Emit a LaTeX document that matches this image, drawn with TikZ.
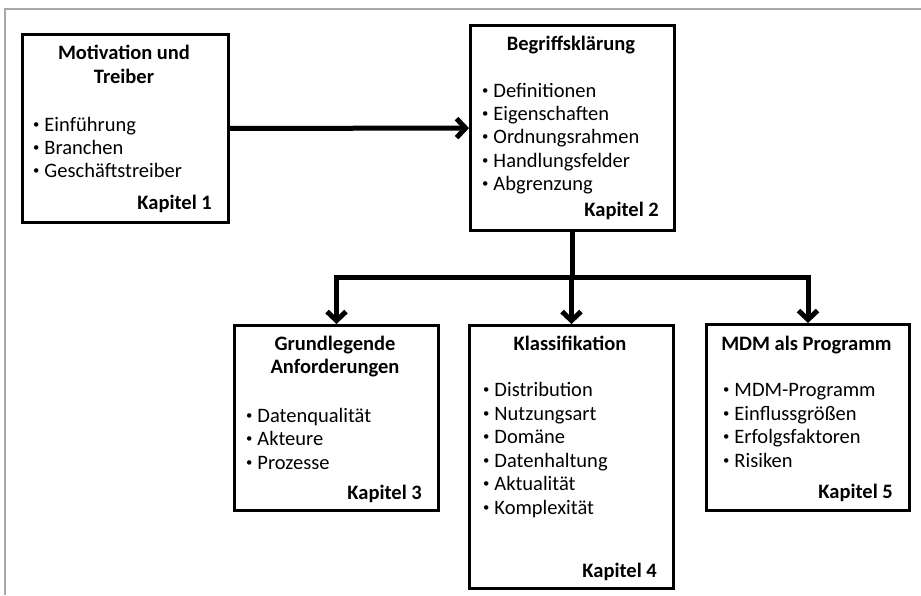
\documentclass[tikz,border=0pt]{standalone}
\usepackage{fontspec}
\setmainfont{Carlito}
\usetikzlibrary{arrows.meta}
\definecolor{framegray}{RGB}{168,168,172}
\newcommand\blt{\makebox[0.55em][l]{\raisebox{0.13em}{\scalebox{0.62}{•}}}}
\begin{document}
\begin{tikzpicture}[x=1pt,y=-1pt,
  box/.style={draw,line width=3pt,inner sep=0pt,anchor=north west},
  txt/.style={inner sep=0pt,font=\fontsize{20.5}{23}\selectfont},
  ttl/.style={inner sep=0pt,font=\fontsize{20.5}{23}\selectfont\bfseries,anchor=base},
  item/.style={txt,anchor=base west},
  kap/.style={inner sep=0pt,font=\fontsize{20.5}{23}\selectfont\bfseries,anchor=base east},
  link/.style={line width=5pt,line join=miter},
  arr/.style={link,-{Straight Barb[length=9pt,width=19pt]}}]
\useasboundingbox (0,0) rectangle (921,595);
\draw[framegray,line width=1.5pt] (921,9) -- (5,9) -- (5,595);

% boxes
\node[box,minimum width=206pt,minimum height=188pt] (b1) at (21,33) {};
\node[box,minimum width=204pt,minimum height=205pt] (b2) at (469,24) {};
\node[box,minimum width=204pt,minimum height=185pt] (b3) at (233,324) {};
\node[box,minimum width=204pt,minimum height=263pt] (b4) at (468,324) {};
\node[box,minimum width=203pt,minimum height=186pt] (b5) at (705,323) {};

% box 1
\node[ttl] (t1a) at (124,59) {Motivation und};
\node[ttl] (t1b) at (124,83) {Treiber};
\node[item] (i1a) at (33,131) {\blt Einführung};
\node[item] (i1b) at (33,154) {\blt Branchen};
\node[item] (i1c) at (33,177) {\blt Geschäftstreiber};
\node[kap] (k1) at (212,209) {Kapitel 1};

% box 2
\node[ttl] (t2a) at (571,50) {Begriffsklärung};
\node[item] (i2a) at (482,97) {\blt Definitionen};
\node[item] (i2b) at (482,120) {\blt Eigenschaften};
\node[item] (i2c) at (482,143.5) {\blt Ordnungsrahmen};
\node[item] (i2d) at (482,167) {\blt Handlungsfelder};
\node[item] (i2e) at (482,190) {\blt Abgrenzung};
\node[kap] (k2) at (659,216) {Kapitel 2};

% box 3
\node[ttl] (t3a) at (335,350) {Grundlegende};
\node[ttl] (t3b) at (335,373) {Anforderungen};
\node[item] (i3a) at (246,422) {\blt Datenqualität};
\node[item] (i3b) at (246,445) {\blt Akteure};
\node[item] (i3c) at (246,469) {\blt Prozesse};
\node[kap] (k3) at (422,499) {Kapitel 3};

% box 4
\node[ttl] (t4a) at (570,350) {Klassifikation};
\node[item] (i4a) at (483,396.5) {\blt Distribution};
\node[item] (i4b) at (483,420) {\blt Nutzungsart};
\node[item] (i4c) at (483,443.5) {\blt Domäne};
\node[item] (i4d) at (483,467) {\blt Datenhaltung};
\node[item] (i4e) at (483,490.5) {\blt Aktualität};
\node[item] (i4f) at (483,514) {\blt Komplexität};
\node[kap] (k4) at (657,577) {Kapitel 4};

% box 5
\node[ttl] (t5a) at (806.5,350) {MDM als Programm};
\node[item] (i5a) at (723,396.5) {\blt MDM-Programm};
\node[item] (i5b) at (723,420) {\blt Einflussgrößen};
\node[item] (i5c) at (723,443.5) {\blt Erfolgsfaktoren};
\node[item] (i5d) at (723,467) {\blt Risiken};
\node[kap] (k5) at (893,498) {Kapitel 5};

% connectors
\draw[arr] (b1) -- (b2);
\coordinate (j) at (b2.south |- 0,277);
\draw[link] (b2.south) -- (j);
\draw[arr] (j) -| (b3.north);
\draw[arr] (j) -| (b5.north);
\draw[arr] (j) -- (j -| b4.north) -- (b4.north);
\end{tikzpicture}
\end{document}
